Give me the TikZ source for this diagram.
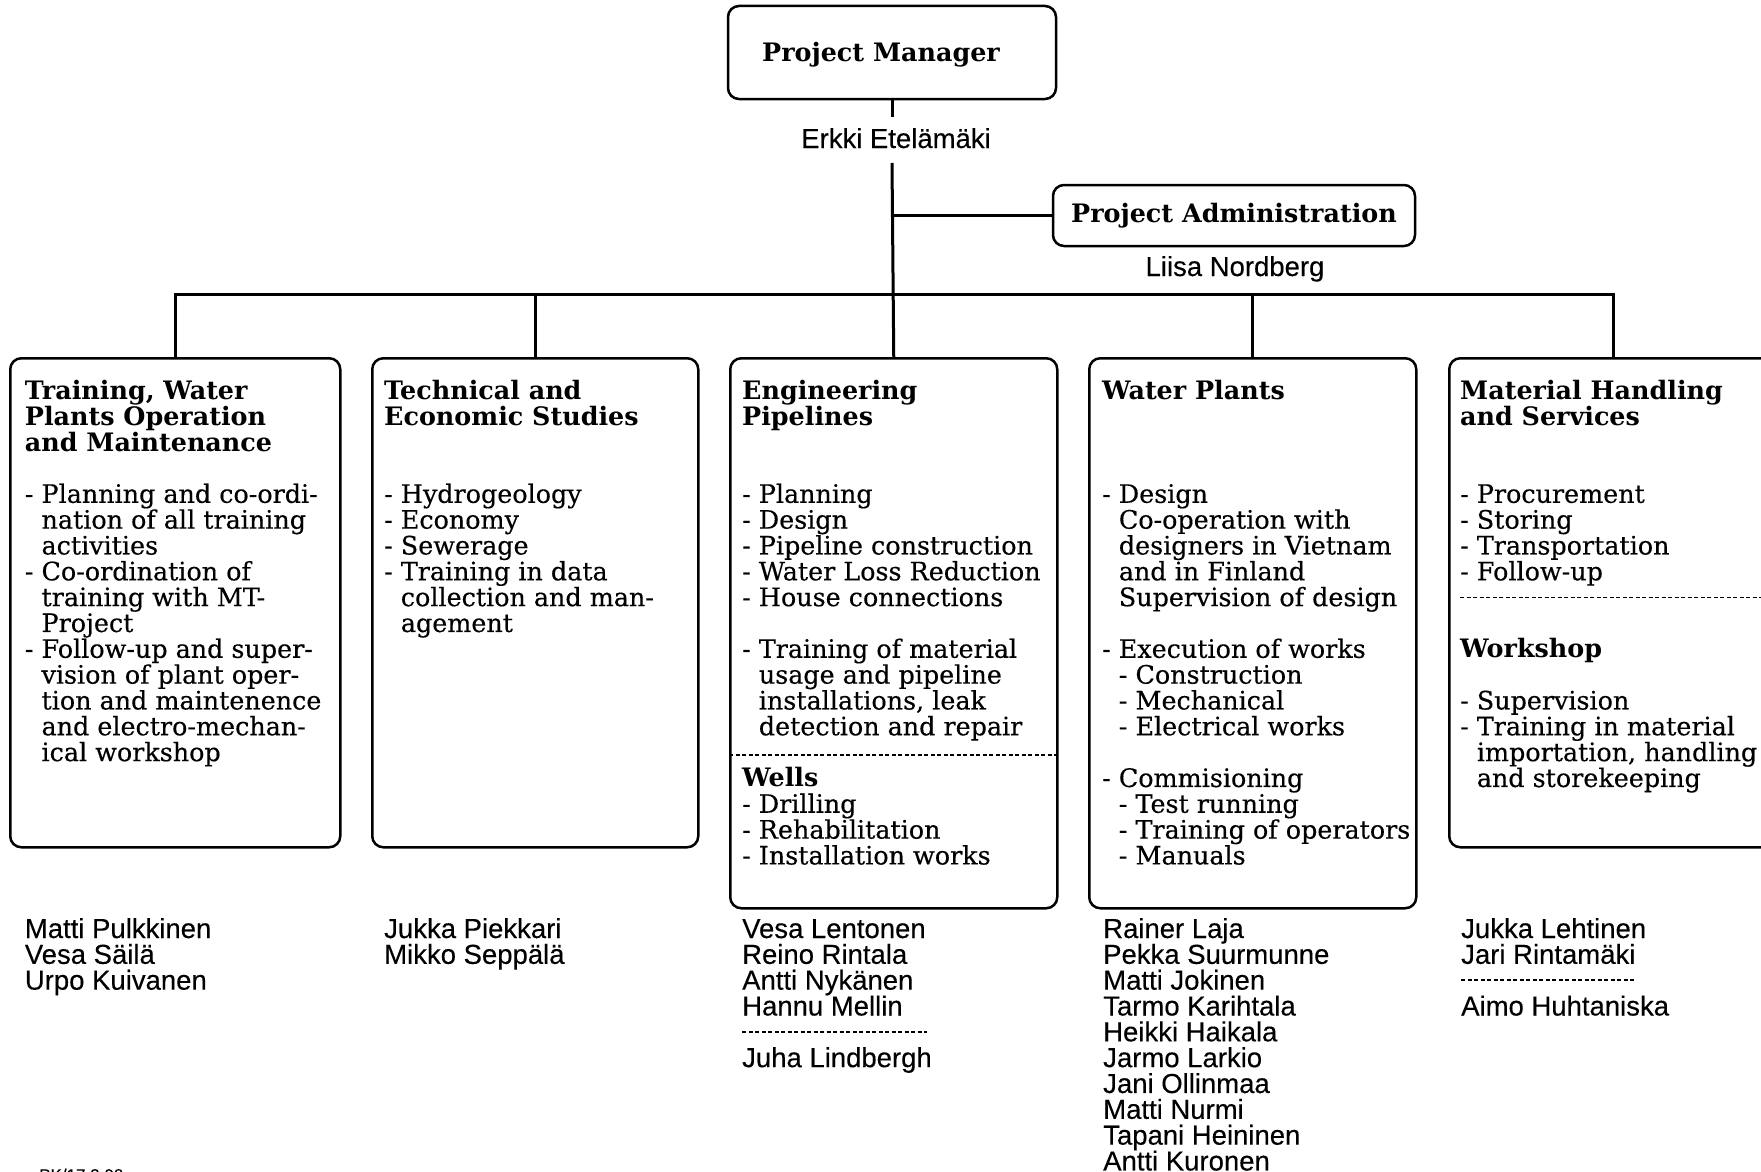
\documentclass[tikz,border=0pt]{standalone}
\usepackage{fontspec}
\setmainfont{DejaVu Serif}[UprightFeatures={FakeBold=0.35}]
\newfontfamily\namefont{Liberation Sans}[FakeBold=0.25]
\newcommand\boxfont{\fontsize{25.4}{25.83}\selectfont\lineskiplimit=-100pt}
\newcommand\namesfont{\namefont\fontsize{27.5}{25.83}\selectfont\lineskiplimit=-100pt}
\newcommand\ind{\hphantom{- }}
\newcommand\gap{\mbox{}}
\tikzset{
  unit/.style={draw, line width=2.5pt, rounded corners=11pt, inner sep=0pt},
  conn/.style={line width=3pt},
  sepline/.style={line width=1.6pt, dash pattern=on 4pt off 2.5pt},
  boxtext/.style={anchor=base west, inner sep=0pt, font=\boxfont},
  names/.style={anchor=base west, inner sep=0pt, font=\namesfont},
}
\begin{document}
\begin{tikzpicture}[x=1pt,y=-1pt]
\useasboundingbox (0,0) rectangle (1761,1172);
\clip (0,0) rectangle (1761,1172);

% top level
\node[unit, minimum width=328pt, minimum height=93pt] (pm) at (892,52.5) {};
\node[inner sep=0pt, font=\boxfont\bfseries] (pmt) at (881,55) {Project Manager};
\node[anchor=base, inner sep=0pt, font=\namesfont] (erkki) at (896,148) {Erkki Etelämäki};
\node[unit, minimum width=362pt, minimum height=61pt, font=\boxfont\bfseries] (adm) at (1234,215.5) {Project Administration};
\node[anchor=base, inner sep=0pt, font=\namesfont] (liisa) at (1235,276) {Liisa Nordberg};

% department boxes
\node[unit, minimum width=330pt, minimum height=489pt, anchor=north west] (b1) at (9,357) {};
\node[unit, minimum width=326pt, minimum height=489pt, anchor=north west] (b2) at (371,357) {};
\node[unit, minimum width=327pt, minimum height=550pt, anchor=north west] (b3) at (729,357) {};
\node[unit, minimum width=327pt, minimum height=550pt, anchor=north west] (b4) at (1088,357) {};
\node[unit, minimum width=328pt, minimum height=489pt, anchor=north west] (b5) at (1448,357) {};

% connectors
\coordinate (t1) at (892,117);
\coordinate (t2) at (892,163);
\coordinate (bus) at (0,294);
\draw[conn] (pm.south) -- (t1);
\draw[conn] (t2) -- (b3.north);
\draw[conn] (t2 |- adm.west) -- (adm.west);
\draw[conn] (b1.north) -- (b1.north |- bus) -- (b5.north |- bus) -- (b5.north);
\draw[conn] (b2.north |- bus) -- (b2.north);
\draw[conn] (b4.north |- bus) -- (b4.north);

% box contents
\node[boxtext] (b1t) at (24.7,399.5) {\parbox[t]{310pt}{\raggedright
\textbf{Training, Water}\\
\textbf{Plants Operation}\\
\textbf{and Maintenance}\\
\gap\\
- Planning and co-ordi-\\
\ind nation of all training\\
\ind activities\\
- Co-ordination of\\
\ind training with MT-\\
\ind Project\\
- Follow-up and super-\\
\ind vision of plant oper-\\
\ind tion and maintenence\\
\ind and electro-mechan-\\
\ind ical workshop}};

\node[boxtext] (b2t) at (384,399.5) {\parbox[t]{310pt}{\raggedright
\textbf{Technical and}\\
\textbf{Economic Studies}\\
\gap\\
\gap\\
- Hydrogeology\\
- Economy\\
- Sewerage\\
- Training in data\\
\ind collection and man-\\
\ind agement}};

\node[boxtext] (b3t) at (742,399.5) {\parbox[t]{310pt}{\raggedright
\textbf{Engineering}\\
\textbf{Pipelines}\\
\gap\\
\gap\\
- Planning\\
- Design\\
- Pipeline construction\\
- Water Loss Reduction\\
- House connections\\
\gap\\
- Training of material\\
\ind usage and pipeline\\
\ind installations, leak\\
\ind detection and repair\\
\gap\\
\textbf{Wells}\\
- Drilling\\
- Rehabilitation\\
- Installation works}};

\node[boxtext] (b4t) at (1102,399.5) {\parbox[t]{320pt}{\raggedright
\textbf{Water Plants}\\
\gap\\
\gap\\
\gap\\
- Design\\
\ind Co-operation with\\
\ind designers in Vietnam\\
\ind and in Finland\\
\ind Supervision of design\\
\gap\\
- Execution of works\\
\ind - Construction\\
\ind - Mechanical\\
\ind - Electrical works\\
\gap\\
- Commisioning\\
\ind - Test running\\
\ind - Training of operators\\
\ind - Manuals}};

\node[boxtext] (b5t) at (1460,399.5) {\parbox[t]{320pt}{\raggedright
\textbf{Material Handling}\\
\textbf{and Services}\\
\gap\\
\gap\\
- Procurement\\
- Storing\\
- Transportation\\
- Follow-up\\
\gap\\
\gap\\
\textbf{Workshop}\\
\gap\\
- Supervision\\
- Training in material\\
\ind importation, handling\\
\ind and storekeeping}};

% separators inside boxes
\draw[sepline] (b3.west |- 0,755) -- (b3.east |- 0,755);
\draw[sepline] (1460,597.5) -- (b5.east |- 0,597.5);

% staff lists
\node[names] (n1) at (24.7,938) {\parbox[t]{300pt}{\raggedright
Matti Pulkkinen\\Vesa Säilä\\Urpo Kuivanen}};
\node[names] (n2) at (384,938) {\parbox[t]{300pt}{\raggedright
Jukka Piekkari\\Mikko Seppälä}};
\node[names] (n3) at (742,938) {\parbox[t]{300pt}{\raggedright
Vesa Lentonen\\Reino Rintala\\Antti Nykänen\\Hannu Mellin\\\gap\\Juha Lindbergh}};
\node[names] (n4) at (1103,938) {\parbox[t]{300pt}{\raggedright
Rainer Laja\\Pekka Suurmunne\\Matti Jokinen\\Tarmo Karihtala\\Heikki Haikala\\Jarmo Larkio\\Jani Ollinmaa\\Matti Nurmi\\Tapani Heininen\\Antti Kuronen}};
\node[names] (n5) at (1461,938) {\parbox[t]{300pt}{\raggedright
Jukka Lehtinen\\Jari Rintamäki\\\gap\\Aimo Huhtaniska}};

\draw[sepline, line width=1.4pt] (742,1032) -- (927,1032);
\draw[sepline, line width=1.4pt] (1461,980) -- (1634,980);

% file stamp at the lower margin
\node[anchor=base west, inner sep=0pt, font=\namefont\fontsize{17}{17}\selectfont] (stamp) at (39,1181) {PK/17.3.98};
\end{tikzpicture}
\end{document}
